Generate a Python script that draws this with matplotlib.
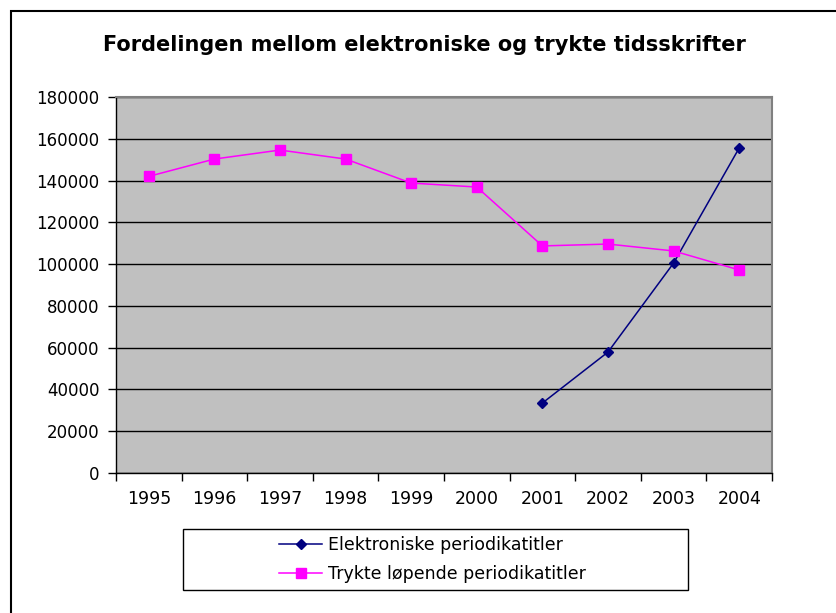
import matplotlib
matplotlib.use("Agg")
import numpy as np
from matplotlib import pyplot as plt
from matplotlib.patches import Rectangle

years = ["1995", "1996", "1997", "1998", "1999", "2000", "2001", "2002", "2003", "2004"]
electronic = [None, None, None, None, None, None, 33500, 57900, 100500, 155600]
printed = [142000, 150300, 154600, 150300, 138800, 136900, 108700, 109600, 106300, 97200]
title = "Fordelingen mellom elektroniske og trykte tidsskrifter"
labels = ["Elektroniske periodikatitler", "Trykte løpende periodikatitler"]

plt.rcParams['font.family'] = ['DejaVu Sans']

W, H = 837, 613
fig = plt.figure(figsize=(W / 100, H / 100), dpi=100)
fig.patch.set_facecolor("white")

# outer chart border (right and bottom edges fall outside the picture)
fig.add_artist(Rectangle((11 / W, -0.05), 1.0, 1 - 11 / H + 0.05, transform=fig.transFigure,
                         fill=False, edgecolor="black", linewidth=1.5))

ax = fig.add_axes([116 / W, 1 - 473 / H, (772 - 116) / W, (473 - 97) / H])
ax.set_facecolor("#C0C0C0")

x = np.arange(len(years))
e = np.array([np.nan if v is None else v for v in electronic], dtype=float)
ax.plot(x, e, color="#000080", marker="D", markersize=5.5, linewidth=1.1,
        label=labels[0], zorder=3)
ax.plot(x, printed, color="#FF00FF", marker="s", markersize=6.5, linewidth=1.1,
        label=labels[1], zorder=3)

ax.set_ylim(0, 180000)
ax.set_yticks(range(0, 180001, 20000))
ax.yaxis.grid(True, color="black", linewidth=1.0)
ax.set_axisbelow(True)

ax.set_xlim(-0.5, len(years) - 0.5)
ax.set_xticks(np.arange(-0.5, len(years), 1.0))
ax.set_xticklabels([])
ax.set_xticks(x, minor=True)
ax.set_xticklabels(years, minor=True)
ax.tick_params(axis="x", which="minor", length=0, pad=12, labelsize=12.5)
ax.tick_params(axis="x", which="major", direction="out", length=6, width=1)
ax.tick_params(axis="y", direction="out", length=6, width=1, labelsize=12, pad=6)

for s in ["top", "right"]:
    ax.spines[s].set_color("#808080")
    ax.spines[s].set_linewidth(1.5)
for s in ["left", "bottom"]:
    ax.spines[s].set_color("black")
    ax.spines[s].set_linewidth(1.0)

fig.text(424 / W, 1 - 45 / H, title, ha="center", va="center",
         fontsize=15, fontweight="bold")

# legend box
fig.add_artist(Rectangle((183 / W, 1 - 590 / H), 505 / W, 61 / H, transform=fig.transFigure,
                         fill=True, facecolor="white", edgecolor="black", linewidth=1.0))
handles, labs = ax.get_legend_handles_labels()
fig.legend(handles, labs, loc="center left", bbox_to_anchor=(279 / W, 1 - 559.5 / H),
           frameon=False, fontsize=12.5, handlelength=2.5, handletextpad=0.3,
           labelspacing=0.65, borderaxespad=0, borderpad=0)

fig.savefig("out.png", dpi=100)
